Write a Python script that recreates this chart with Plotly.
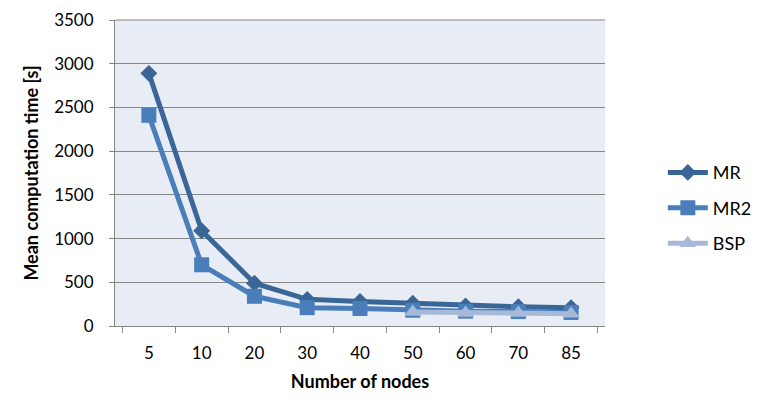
import plotly.graph_objects as go

categories = ["5", "10", "20", "30", "40", "50", "60", "70", "85"]
mr = [2890, 1090, 490, 305, 280, 260, 230, 220, 210]
mr2 = [2410, 700, 340, 210, 200, 180, 170, 165, 155]
bsp_categories = ["50", "60", "70", "85"]
bsp = [160, 150, 150, 140]

font_family = "Lato, 'Open Sans', sans-serif"

fig = go.Figure()
fig.add_trace(go.Scatter(
    x=categories, y=mr, name="MR", mode="lines+markers", legendgroup="a",
    line=dict(color="#3A6597", width=5),
    marker=dict(symbol="diamond", size=13, color="#3A6597"),
))
fig.add_trace(go.Scatter(
    x=categories, y=mr2, name="MR2", mode="lines+markers", legendgroup="b",
    line=dict(color="#4A7EBB", width=5),
    marker=dict(symbol="square", size=15, color="#4A7EBB"),
))
fig.add_trace(go.Scatter(
    x=bsp_categories, y=bsp, name="BSP", mode="lines+markers", legendgroup="c",
    line=dict(color="#A7B9D8", width=5),
    marker=dict(symbol="triangle-up", size=15, color="#A7B9D8"),
))

fig.update_layout(
    width=770, height=420,
    margin=dict(l=107, r=173, t=12, b=102, autoexpand=False),
    paper_bgcolor="white",
    plot_bgcolor="#E8ECF4",
    font=dict(family=font_family, size=17, color="black"),
    showlegend=True,
    legend=dict(x=1.118, y=0.385, xanchor="left", yanchor="middle",
                font=dict(size=18), tracegroupgap=9, itemwidth=40,
                bgcolor="rgba(0,0,0,0)"),
    xaxis=dict(
        type="category", categoryorder="array", categoryarray=categories,
        showgrid=False, showline=True, linecolor="#868686", linewidth=1,
        ticks="outside", tickson="boundaries", ticklen=6, tickcolor="#868686",
        ticklabelstandoff=12,
        title=dict(text="<b>Number of nodes</b>", font=dict(size=18), standoff=12),
        tickfont=dict(size=17),
        automargin=False,
    ),
    yaxis=dict(
        range=[0, 3500], dtick=500,
        showgrid=True, gridcolor="#868686", gridwidth=1,
        showline=True, linecolor="#868686", linewidth=1,
        ticks="outside", ticklen=5, tickcolor="#868686",
        ticklabelstandoff=12,
        title=dict(text="<b>Mean computation time [s]</b>", font=dict(size=18), standoff=10),
        tickfont=dict(size=17),
        zeroline=False,
        automargin=False,
    ),
)
fig.add_shape(type="line", xref="paper", yref="paper", x0=0, x1=1, y0=1, y1=1,
              line=dict(color="#868686", width=1))

fig.write_html("out.html")
